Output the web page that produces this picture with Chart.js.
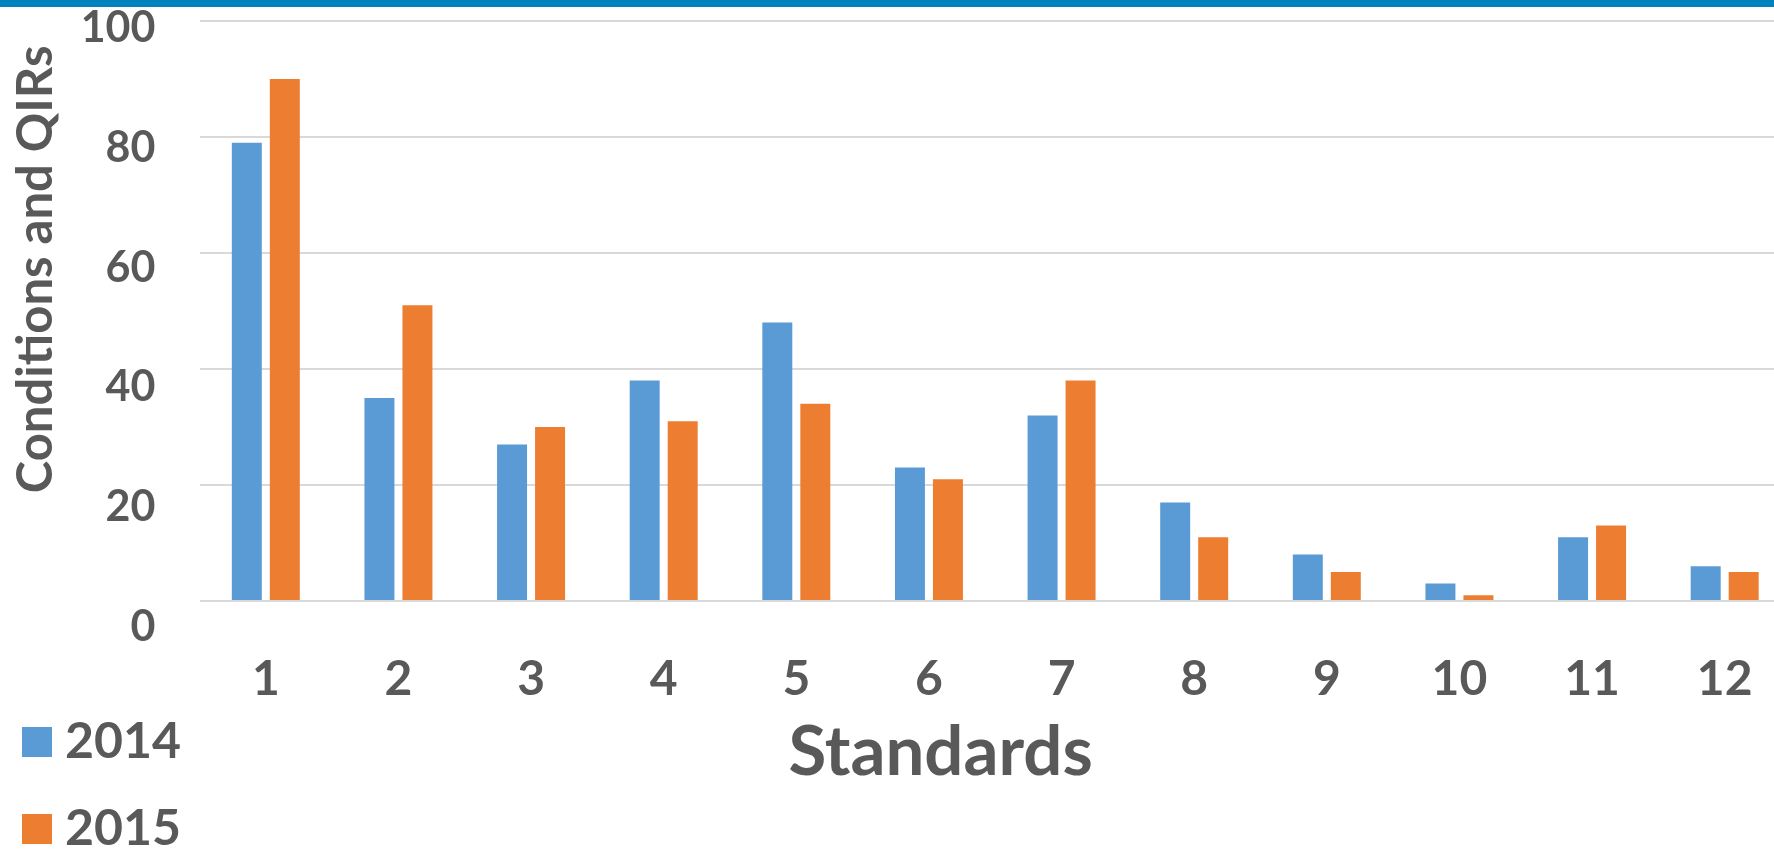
<!DOCTYPE html>
<html>
<head>
<meta charset="utf-8">
<script src="https://cdn.jsdelivr.net/npm/chart.js@4.4.1/dist/chart.umd.min.js"></script>
<style>
  html, body { margin: 0; padding: 0; width: 1774px; height: 850px; overflow: hidden; background: #ffffff; }
  #band { position: absolute; left: 0; top: 0; width: 100%; height: 7px; background: #0082be; z-index: 2; }
  #wrap { position: absolute; left: -15px; top: 0; width: 1806px; height: 915px; }
</style>
</head>
<body>
<div id="band"></div>
<div id="wrap"><canvas id="chart" width="1806" height="915"></canvas></div>
<script>
// Standards on the x axis, counts of conditions and QIRs per year
const standards = ['1', '2', '3', '4', '5', '6', '7', '8', '9', '10', '11', '12'];
const series2014 = [79, 35, 27, 38, 48, 23, 32, 17, 8, 3, 11, 6];
const series2015 = [90, 51, 30, 31, 34, 21, 38, 11, 5, 1, 13, 5];
const seriesNames = ['2014', '2015'];
const seriesColors = ['#5b9bd5', '#ed7d31'];
const yTickValues = [0, 20, 40, 60, 80, 100];

const TEXT = '#595959';
const FONT = 'Lato, "Open Sans", sans-serif';
Chart.defaults.font.family = FONT;

// Fix a scale's thickness and drop the extra edge padding Chart.js reserves
function pinScale(width, height) {
  return (scale) => {
    if (width !== undefined) scale.width = width;
    if (height !== undefined) scale.height = height;
    scale.paddingTop = 0;
    scale.paddingBottom = 0;
    scale.paddingLeft = 0;
    scale.paddingRight = 0;
  };
}

// Place the legend as a narrow column in the lower-left corner
const legendPlacement = {
  id: 'legendPlacement',
  afterLayout(chart, args, opts) {
    const lg = chart.legend;
    if (!lg) return;
    lg.top = opts.top;
    lg.height = opts.height;
    lg.bottom = opts.top + opts.height;
    lg.width = opts.width;
    lg.right = lg.left + opts.width;
  }
};

const boldFont = (size) => ({ family: FONT, size: size, weight: 'bold' });

new Chart(document.getElementById('chart'), {
  type: 'bar',
  data: {
    labels: standards,
    datasets: [series2014, series2015].map((values, i) => ({
      label: seriesNames[i],
      data: values,
      backgroundColor: seriesColors[i],
      borderWidth: 0,
      categoryPercentage: 0.573,
      barPercentage: 0.789,
      xAxisID: 'x',
      yAxisID: 'y'
    }))
  },
  options: {
    responsive: false,
    animation: false,
    devicePixelRatio: 1,
    layout: { padding: { left: 12, top: 21, right: 0, bottom: 0 } },
    scales: {
      x: {
        type: 'category',
        grid: { display: false, drawTicks: false },
        border: { display: false },
        ticks: { color: TEXT, font: boldFont(48), padding: 50, maxRotation: 0, autoSkip: false },
        title: {
          display: true,
          text: 'Standards\u2003\u2002\u2004',
          color: TEXT,
          font: boldFont(69),
          padding: { top: 0, bottom: 24 }
        },
        afterFit: pinScale(undefined, 217)
      },
      y: {
        type: 'linear',
        position: 'left',
        min: 0,
        max: 100,
        ticks: { stepSize: 20, display: false },
        grid: { color: '#d9d9d9', lineWidth: 2, drawTicks: false },
        border: { display: false },
        afterFit: pinScale(0)
      },
      yLabels: {
        type: 'linear',
        position: 'left',
        min: 4.31,
        max: 101.22,
        afterBuildTicks: (scale) => { scale.ticks = yTickValues.map(v => ({ value: v })); },
        grid: { display: false, drawTicks: false },
        border: { display: false },
        ticks: { color: TEXT, font: boldFont(43), padding: 44, autoSkip: false },
        title: {
          display: true,
          text: 'Conditions and QIRs\u2002',
          align: 'end',
          color: TEXT,
          font: boldFont(49),
          padding: { top: 10.1, bottom: 0 }
        },
        afterFit: pinScale(202.5)
      }
    },
    plugins: {
      tooltip: { enabled: false },
      legendPlacement: { top: 680, width: 300, height: 200 },
      legend: {
        position: 'bottom',
        align: 'start',
        labels: {
          color: TEXT,
          font: boldFont(50),
          boxWidth: 6,
          boxHeight: 6,
          padding: 37,
          generateLabels(chart) {
            const items = Chart.defaults.plugins.legend.labels.generateLabels(chart);
            items.forEach(item => {
              item.lineWidth = 24;
              item.strokeStyle = item.fillStyle;
              item.lineJoin = 'miter';
            });
            return items;
          }
        }
      }
    }
  },
  plugins: [legendPlacement]
});
</script>
</body>
</html>
